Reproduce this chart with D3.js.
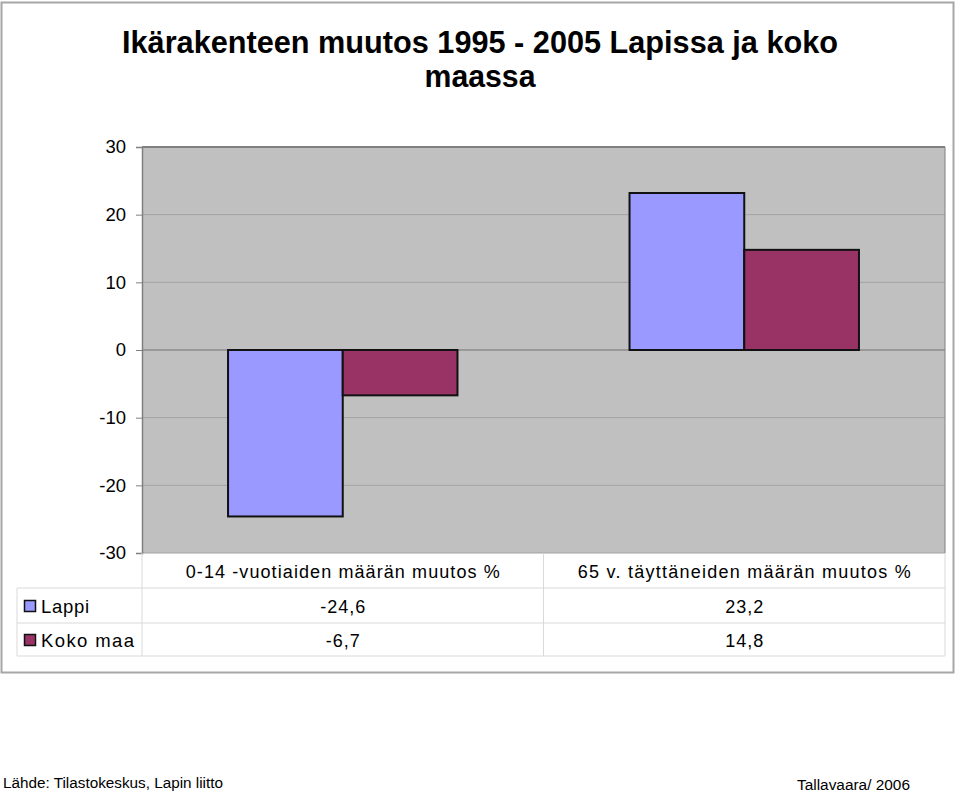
<!DOCTYPE html>
<html><head><meta charset="utf-8">
<script src="https://cdn.jsdelivr.net/npm/d3@7"></script>
<style>body{margin:0;background:#fff}svg{display:block}</style>
</head><body>
<script>
const titleLines = ["Ikärakenteen muutos 1995 - 2005 Lapissa ja koko", "maassa"];
const categories = ["0-14 -vuotiaiden määrän muutos %", "65 v. täyttäneiden määrän muutos %"];
const seriesNames = ["Lappi", "Koko maa"];
const lappi = [-24.6, 23.2];
const kokoMaa = [-6.7, 14.8];
const valueLabels = [["-24,6", "23,2"], ["-6,7", "14,8"]];
const yTicks = [30, 20, 10, 0, -10, -20, -30];
const colors = ["#9999ff", "#993366"];
const source = "Lähde: Tilastokeskus, Lapin liitto";
const author = "Tallavaara/ 2006";

const W = 960, H = 793;
const svg = d3.select("body").append("svg").attr("width", W).attr("height", H);
const font = "'Liberation Sans', Arial, sans-serif";

// outer border
svg.append("rect").attr("x", 1.5).attr("y", 2.5).attr("width", 952).attr("height", 670)
  .attr("fill", "#fff").attr("stroke", "#a6a6a6").attr("stroke-width", 2);

// title (condensed bold)
const titleSpecs = [{y: 53, len: 716}, {y: 87, len: 111}];
titleLines.forEach((t, i) => {
  svg.append("text").attr("x", 480).attr("y", titleSpecs[i].y).attr("text-anchor", "middle")
    .attr("font-family", font).attr("font-weight", "bold").attr("font-size", 31.5)
    .attr("textLength", titleSpecs[i].len).attr("lengthAdjust", "spacingAndGlyphs").text(t);
});

const plot = {l: 142, r: 945, t: 147, b: 553};
const y = d3.scaleLinear().domain([-30, 30]).range([plot.b, plot.t]);
const x0 = d3.scaleBand().domain(categories).range([plot.l, plot.r]).paddingInner(0).paddingOuter(0);
const x1 = d3.scaleBand().domain(seriesNames).range([0, x0.bandwidth()]).paddingOuter(0.75).paddingInner(0);

svg.append("rect").attr("x", plot.l).attr("y", plot.t).attr("width", plot.r - plot.l).attr("height", plot.b - plot.t)
  .attr("fill", "#c0c0c0");

// gridlines
svg.append("g").selectAll("line").data(yTicks).join("line")
  .attr("x1", plot.l).attr("x2", plot.r).attr("y1", d => y(d)).attr("y2", d => y(d))
  .attr("stroke", d => d === 0 ? "#8c8c8c" : "#a3a3a3").attr("stroke-width", d => d === 0 ? 1.5 : 1);
svg.append("line").attr("x1", plot.l).attr("x2", plot.r).attr("y1", plot.t).attr("y2", plot.t)
  .attr("stroke", "#808080").attr("stroke-width", 2);
svg.append("line").attr("x1", plot.r).attr("x2", plot.r).attr("y1", plot.t).attr("y2", plot.b)
  .attr("stroke", "#808080").attr("stroke-width", 1);

// y axis
const yAxis = svg.append("g").attr("transform", `translate(${plot.l},0)`)
  .call(d3.axisLeft(y).tickValues(yTicks).tickSize(6).tickPadding(10).tickFormat(d => String(d)));
yAxis.select(".domain").attr("stroke", "#808080").attr("stroke-width", 1.5);
yAxis.selectAll(".tick line").attr("stroke", "#808080");
yAxis.selectAll("text").attr("font-family", font).attr("font-size", 18.5).attr("fill", "#000");

// bars
const series = [lappi, kokoMaa];
series.forEach((vals, si) => {
  svg.append("g").selectAll("rect").data(vals).join("rect")
    .attr("x", (d, i) => x0(categories[i]) + x1(seriesNames[si]))
    .attr("width", x1.bandwidth())
    .attr("y", d => y(Math.max(0, d)))
    .attr("height", d => Math.abs(y(d) - y(0)))
    .attr("fill", colors[si]).attr("stroke", "#111").attr("stroke-width", 2);
});

// data table
const tbl = {l: 17};
const tg = svg.append("g");
const lineC = "#d9d9d9";
[588, 623, 656].forEach(yy => {
  tg.append("line").attr("x1", tbl.l).attr("x2", plot.r).attr("y1", yy).attr("y2", yy).attr("stroke", lineC);
});
tg.append("line").attr("x1", tbl.l).attr("x2", tbl.l).attr("y1", 588).attr("y2", 656).attr("stroke", lineC);
tg.append("line").attr("x1", plot.l).attr("x2", plot.l).attr("y1", plot.b).attr("y2", 656).attr("stroke", lineC);
categories.forEach(c => {
  const xe = x0(c) + x0.bandwidth();
  tg.append("line").attr("x1", xe).attr("x2", xe).attr("y1", plot.b).attr("y2", 656).attr("stroke", lineC);
});
const catLens = [314, 333];
categories.forEach((c, ci) => {
  tg.append("text").attr("x", x0(c) + x0.bandwidth() / 2).attr("y", 578).attr("text-anchor", "middle")
    .attr("font-family", font).attr("font-size", 18)
    .attr("textLength", catLens[ci]).attr("lengthAdjust", "spacing").text(c);
});
const nameLens = [48, 93];
seriesNames.forEach((s, si) => {
  const ry = [613, 647][si];
  tg.append("rect").attr("x", 24.5).attr("y", ry - 12.5).attr("width", 11).attr("height", 11)
    .attr("fill", colors[si]).attr("stroke", "#111").attr("stroke-width", 1.5);
  tg.append("text").attr("x", 41).attr("y", ry).attr("font-family", font).attr("font-size", 18.5)
    .attr("textLength", nameLens[si]).attr("lengthAdjust", "spacing").text(s);
  categories.forEach((c, ci) => {
    tg.append("text").attr("x", x0(c) + x0.bandwidth() / 2 + 0.5).attr("y", ry).attr("text-anchor", "middle")
      .attr("font-family", font).attr("font-size", 18).attr("letter-spacing", 1).text(valueLabels[si][ci]);
  });
});

// footer
svg.append("text").attr("x", 3).attr("y", 788).attr("font-family", font).attr("font-size", 15.5)
  .attr("textLength", 220).attr("lengthAdjust", "spacingAndGlyphs").text(source);
svg.append("text").attr("x", 910).attr("y", 789.5).attr("text-anchor", "end").attr("font-family", font).attr("font-size", 15.5)
  .attr("textLength", 113).attr("lengthAdjust", "spacingAndGlyphs").text(author);
</script>
</body></html>
